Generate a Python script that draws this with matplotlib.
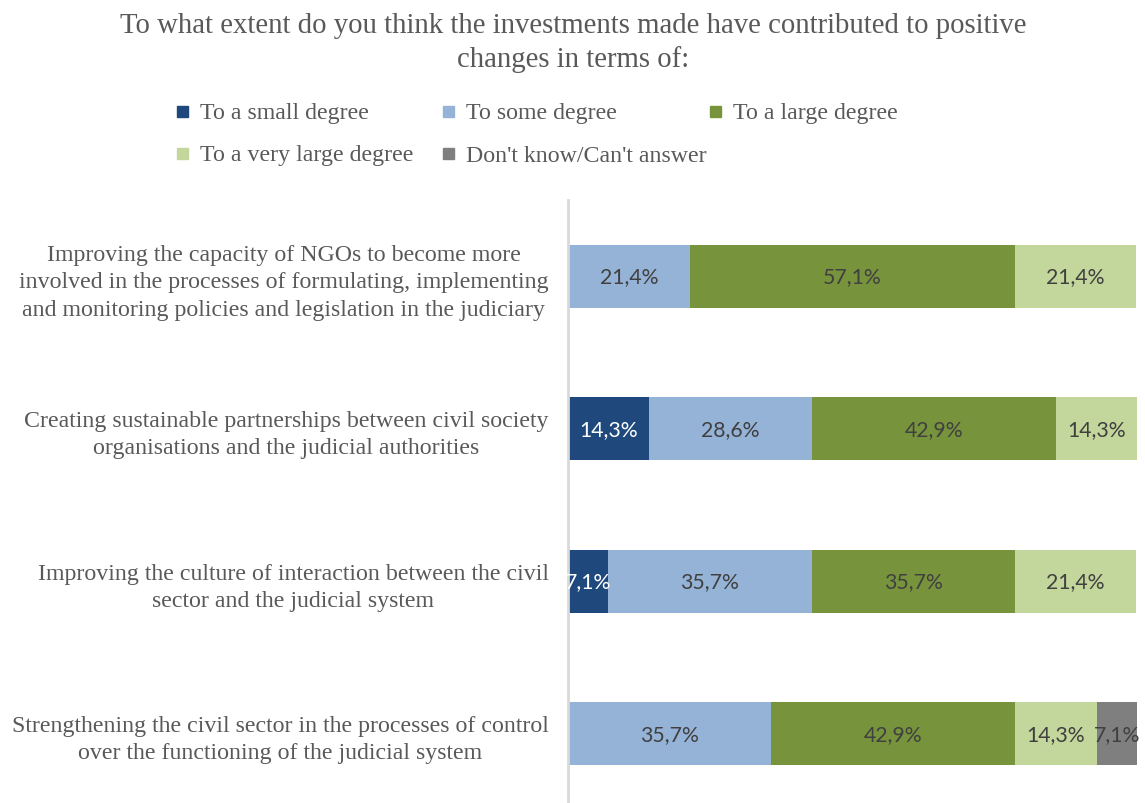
import matplotlib.pyplot as plt
from matplotlib.patches import Rectangle
import numpy as np

categories = [
    "Improving the capacity of NGOs to become more\n"
    "involved in the processes of formulating, implementing\n"
    "and monitoring policies and legislation in the judiciary",
    "Creating sustainable partnerships between civil society\n"
    "organisations and the judicial authorities",
    "Improving the culture of interaction between the civil\n"
    "sector and the judicial system",
    "Strengthening the civil sector in the processes of control\n"
    "over the functioning of the judicial system",
]
series_names = ["To a small degree", "To some degree", "To a large degree",
                "To a very large degree", "Don't know/Can't answer"]
small = [0.0, 14.3, 7.1, 0.0]
some = [21.4, 28.6, 35.7, 35.7]
large = [57.1, 42.9, 35.7, 42.9]
very_large = [21.4, 14.3, 21.4, 14.3]
dont_know = [0.0, 0.0, 0.0, 7.1]

colors = ["#1F497D", "#95B3D7", "#77933C", "#C3D69B", "#7F7F7F"]
label_colors = ["white", "#404040", "#404040", "#404040", "#404040"]
text_gray = "#595959"
serif = ["Liberation Serif", "DejaVu Serif"]

fig = plt.figure(figsize=(11.45, 8.04), dpi=100)
ax = fig.add_axes([568 / 1145, (804 - 811) / 804, (1137 - 568) / 1145, 610 / 804])

series = [small, some, large, very_large, dont_know]
y = np.arange(len(categories))
left = np.zeros(len(categories))
for name, vals, col, lcol in zip(series_names, series, colors, label_colors):
    vals = np.array(vals)
    bars = ax.barh(y, vals, left=left, height=0.41, color=col, label=name)
    for rect, v in zip(bars, vals):
        if v > 0:
            ax.text(rect.get_x() + rect.get_width() / 2, rect.get_y() + rect.get_height() / 2,
                    f"{v:.1f}%".replace(".", ","), ha="center", va="center",
                    color=lcol, fontsize=15.3, family=["Lato", "DejaVu Sans"])
    left += vals

ax.set_xlim(0, 100)
ax.set_ylim(3.5, -0.5)
ax.set_xticks([])
ax.set_yticks(y)
ax.set_yticklabels(categories, family=serif, fontsize=17.2, color=text_gray,
                   multialignment="center", linespacing=1.39)
ax.tick_params(axis="y", length=0, pad=14)
for side in ["top", "right", "bottom"]:
    ax.spines[side].set_visible(False)
ax.spines["left"].set_color("#D9D9D9")
ax.spines["left"].set_linewidth(2)

fig.text(573 / 1145, 1 - 43 / 804,
         "To what extent do you think the investments made have contributed to positive\n"
         "changes in terms of:", ha="center", va="center", family=serif,
         fontsize=20.7, color=text_gray, linespacing=1.35)

# legend drawn by hand to keep the Excel-like grid
legend_pos = [(183, 112), (449, 112), (716, 112), (183, 154), (449, 154)]
for (px, py), name, col in zip(legend_pos, series_names, colors):
    fig.patches.append(Rectangle(((px - 6) / 1145, 1 - (py + 6) / 804), 11 / 1145, 11 / 804,
                                 transform=fig.transFigure, color=col))
    fig.text((px + 17) / 1145, 1 - (py + 2) / 804, name, ha="left", va="center",
             family=serif, fontsize=17.2, color=text_gray)

fig.savefig("out.png", dpi=100)
